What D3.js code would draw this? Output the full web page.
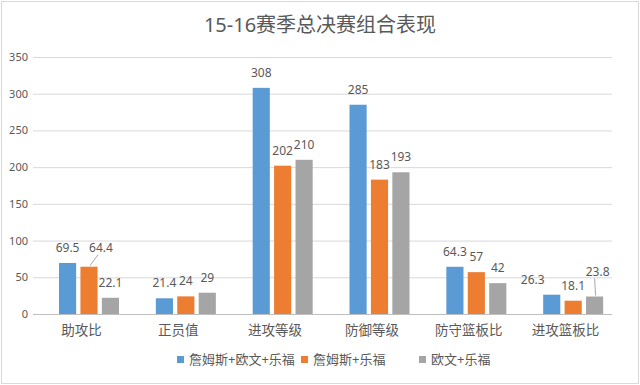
<!DOCTYPE html>
<html>
<head>
<meta charset="utf-8">
<script src="https://cdn.jsdelivr.net/npm/d3@7"></script>
<style>
  body { margin: 0; background: #fff; }
  text { font-family: "Noto Sans", "Noto Sans CJK SC", sans-serif; fill: #595959; }
</style>
</head>
<body>
<div id="chart"></div>
<script>
var w = 640, h = 385;

// data
var categories = ["助攻比", "正员值", "进攻等级", "防御等级", "防守篮板比", "进攻篮板比"];
var seriesNames = ["詹姆斯+欧文+乐福", "詹姆斯+乐福", "欧文+乐福"];
var bigThree = [69.5, 21.4, 308, 285, 64.3, 26.3];
var lebronLove = [64.4, 24, 202, 183, 57, 18.1];
var kyrieLove = [22.1, 29, 210, 193, 42, 23.8];
var yTicks = [0, 50, 100, 150, 200, 250, 300, 350];

var colors = ["#5B9BD5", "#ED7D31", "#A5A5A5"];
var series = [bigThree, lebronLove, kyrieLove];

// a few labels were dragged aside in the original (some with leader lines)
var nudges = {"1-0": [12, -4], "2-5": [3, -10], "0-5": [-19, 0]};

var svg = d3.select("#chart").append("svg")
    .attr("width", w).attr("height", h);

// outer border
svg.append("rect")
    .attr("x", 1.5).attr("y", 1.5)
    .attr("width", w - 3).attr("height", h - 3)
    .attr("fill", "#fff").attr("stroke", "#d9d9d9");

svg.append("text")
    .attr("x", w / 2).attr("y", 32)
    .attr("text-anchor", "middle")
    .attr("font-size", "20px")
    .text("15-16赛季总决赛组合表现");

var x0 = d3.scaleBand().domain(categories).range([33, 614]);
var x1 = d3.scaleBand().domain(d3.range(3)).range([26, 86]).paddingInner(0.2);
var y = d3.scaleLinear().domain([0, 350]).range([314, 57]);

// gridlines
svg.append("g").selectAll("line").data(yTicks).enter().append("line")
    .attr("x1", 33).attr("x2", 612)
    .attr("y1", d => y(d) + 0.5).attr("y2", d => y(d) + 0.5)
    .attr("stroke", d => d === 0 ? "#bfbfbf" : "#d9d9d9");

svg.append("g").selectAll("text").data(yTicks).enter().append("text")
    .attr("x", 28).attr("y", d => y(d) + 4)
    .attr("text-anchor", "end")
    .attr("font-size", "11px")
    .text(d => d);

// category labels
svg.append("g").selectAll("text").data(categories).enter().append("text")
    .attr("x", d => x0(d) + x0.bandwidth() / 2)
    .attr("y", 335)
    .attr("text-anchor", "middle")
    .attr("font-size", "13.5px")
    .text(d => d);

// bars and value labels
series.forEach(function (vals, s) {
    var g = svg.append("g");
    g.selectAll("rect").data(vals).enter().append("rect")
        .attr("x", (d, i) => x0(categories[i]) + x1(s))
        .attr("width", x1.bandwidth())
        .attr("y", d => y(d))
        .attr("height", d => y(0) - y(d))
        .attr("fill", colors[s]);

    vals.forEach(function (d, i) {
        var n = nudges[s + "-" + i] || [0, 0];
        var cx = x0(categories[i]) + x1(s) + x1.bandwidth() / 2;
        var lx = cx + n[0], ly = y(d) - 11 + n[1];
        g.append("text")
            .attr("x", lx).attr("y", ly)
            .attr("text-anchor", "middle")
            .attr("font-size", "12px")
            .text(d);
        // leader lines for the labels moved away from their bar
        if (n[1] < 0) {
            g.append("line")
                .attr("x1", cx + 1).attr("y1", y(d) - 1)
                .attr("x2", n[0] > 5 ? lx - 3 : lx - 3).attr("y2", ly + 3)
                .attr("stroke", "#a6a6a6");
        }
    });
});

// legend
var legendX = [177, 301, 419];
var legend = svg.append("g").selectAll("g").data(seriesNames).enter().append("g")
    .attr("transform", (d, i) => "translate(" + legendX[i] + ",356)");
legend.append("rect")
    .attr("width", 7).attr("height", 7)
    .attr("fill", (d, i) => colors[i]);
legend.append("text")
    .attr("x", 12).attr("y", 8)
    .attr("font-size", "13px")
    .text(d => d);
</script>
</body>
</html>
